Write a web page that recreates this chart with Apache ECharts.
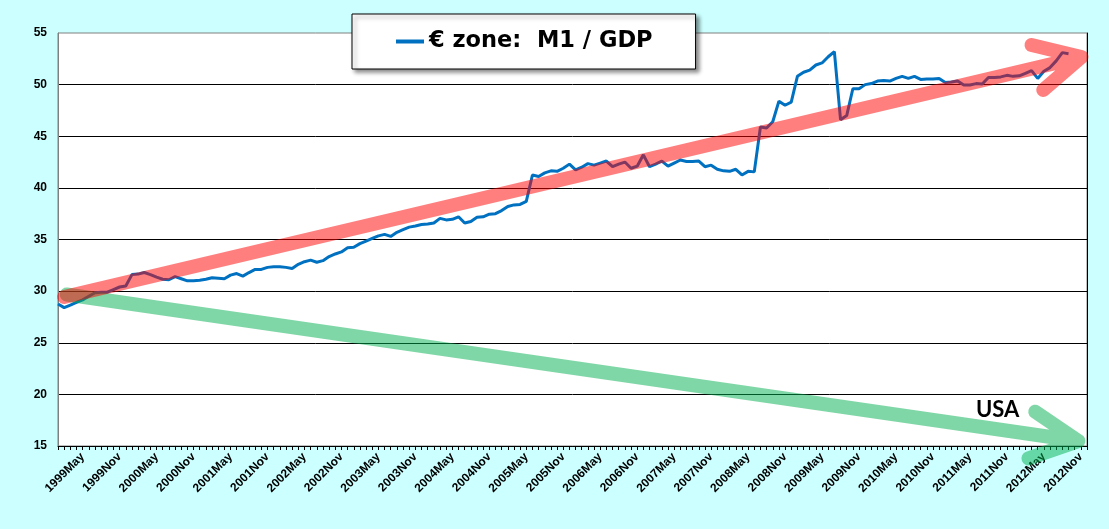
<!DOCTYPE html>
<html>
<head>
<meta charset="utf-8">
<script src="https://cdn.jsdelivr.net/npm/echarts@6/dist/echarts.min.js"></script>
<style>
html,body{margin:0;padding:0;background:#CCFFFF;}
#chart{width:1109px;height:529px;}
</style>
</head>
<body>
<div id="chart"></div>
<script>
// ---- data ----
const years = [1999,2000,2001,2002,2003,2004,2005,2006,2007,2008,2009,2010,2011,2012];
const monthNames = ['Jan','Feb','Mar','Apr','May','Jun','Jul','Aug','Sep','Oct','Nov','Dec'];
const categories = [];
years.forEach(y => monthNames.forEach(m => categories.push(y + m)));

const seriesName = '€ zone:  M1 / GDP';
const m1gdp = [
 28.75,28.4,28.65,28.9,29.15,29.5,29.85,29.9,29.9,30.15,30.4,30.5,
 31.6,31.65,31.8,31.6,31.35,31.15,31.1,31.4,31.2,31.0,31.0,31.05,
 31.15,31.3,31.25,31.2,31.55,31.7,31.45,31.8,32.1,32.1,32.3,32.35,
 32.37,32.3,32.2,32.6,32.85,33.0,32.8,32.95,33.35,33.6,33.8,34.2,
 34.25,34.6,34.85,35.1,35.35,35.5,35.3,35.7,35.95,36.2,36.3,36.45,
 36.5,36.6,37.05,36.9,36.95,37.2,36.6,36.75,37.15,37.2,37.45,37.5,
 37.8,38.2,38.35,38.4,38.7,41.25,41.1,41.45,41.65,41.6,41.9,42.3,
 41.75,42.0,42.35,42.2,42.4,42.6,42.05,42.3,42.5,41.9,42.1,43.2,
 42.05,42.3,42.6,42.1,42.4,42.7,42.55,42.55,42.6,42.05,42.2,41.8,
 41.65,41.6,41.8,41.25,41.6,41.55,45.9,45.8,46.4,48.4,48.0,48.3,
 50.8,51.2,51.4,51.9,52.1,52.7,53.2,46.6,47.0,49.6,49.6,50.0,
 50.1,50.35,50.4,50.35,50.6,50.8,50.6,50.8,50.5,50.55,50.55,50.6,
 50.2,50.25,50.35,49.97,49.97,50.1,50.05,50.7,50.7,50.75,50.9,50.8,
 50.85,51.1,51.35,50.6,51.3,51.65,52.3,53.1,53.0,null,null,null
];
// annotation arrows, in (month index, value) coordinates
const redArrow = [[1.0,29.43],[166.1,52.68],[158.0,53.84],[166.1,52.68],[159.9,49.48]];
const greenArrow = [[1.4,29.67],[165.6,15.48],[158.6,18.32],[165.6,15.48],[157.5,13.8]];
const yTicks = {min:15, max:55, interval:5};

const chart = echarts.init(document.getElementById('chart'), null, {renderer:'canvas'});
const font = '"Liberation Sans", Arial, sans-serif';
chart.setOption({
  backgroundColor:'#CCFFFF',
  animation:false,
  grid:{left:58,right:22,top:33,bottom:83,show:true,backgroundColor:'#FFFFFF',borderColor:'#808080',borderWidth:1},
  legend:{
    data:[{name:seriesName, icon:'rect'}],
    left:352, top:14,
    padding:[16,43,16,44],
    backgroundColor:'#FFFFFF',
    borderColor:'#000000', borderWidth:1,
    shadowColor:'rgba(0,0,0,0.45)', shadowBlur:4, shadowOffsetX:3, shadowOffsetY:3,
    itemWidth:28, itemHeight:4,
    textStyle:{fontFamily:'"DejaVu Sans", sans-serif',fontWeight:'bold',fontSize:22.5,color:'#000000'}
  },
  xAxis:[{
    type:'category', data:categories, boundaryGap:false,
    axisLine:{lineStyle:{color:'#000000',width:1}},
    axisTick:{show:true,interval:0,length:4,lineStyle:{color:'#000000'}},
    axisLabel:{
      interval:(i,v)=> v.endsWith('May') || v.endsWith('Nov'),
      rotate:45, margin:9,
      fontFamily:font, fontWeight:'bold', fontSize:12, color:'#000000'
    },
    splitLine:{show:false}
  },{
    type:'value', min:0, max:categories.length-1, show:false
  }],
  yAxis:[{
    type:'value', min:yTicks.min, max:yTicks.max, interval:yTicks.interval,
    axisLine:{show:true,lineStyle:{color:'#808080'}},
    axisTick:{show:false},
    axisLabel:{fontFamily:font,fontWeight:'bold',fontSize:12,color:'#000000',margin:11},
    splitLine:{show:true,showMaxLine:false,lineStyle:{color:'#000000',width:1}}
  },{
    type:'value', position:'right', min:yTicks.min, max:yTicks.max,
    axisLine:{show:true,lineStyle:{color:'#000000'}},
    axisTick:{show:false}, axisLabel:{show:false}, splitLine:{show:false}
  }],
  series:[{
    name:seriesName, type:'line', data:m1gdp, symbol:'none',
    lineStyle:{color:'#0070C0',width:3}, itemStyle:{color:'#0070C0'}
  },{
    name:'usa', type:'line', xAxisIndex:1, yAxisIndex:0, data:greenArrow,
    symbol:'none', clip:false, silent:true,
    lineStyle:{color:'rgba(0,176,80,0.5)',width:14,cap:'round',join:'round'}
  },{
    name:'ez', type:'line', xAxisIndex:1, yAxisIndex:0, data:redArrow,
    symbol:'none', clip:false, silent:true,
    lineStyle:{color:'rgba(255,0,0,0.5)',width:14,cap:'round',join:'round'}
  }],
  graphic:[{
    type:'text', left:976, top:399,
    style:{text:'USA', fill:'#000000', font:'bold 22px Lato, "Open Sans", sans-serif'}
  }]
});
</script>
</body>
</html>
